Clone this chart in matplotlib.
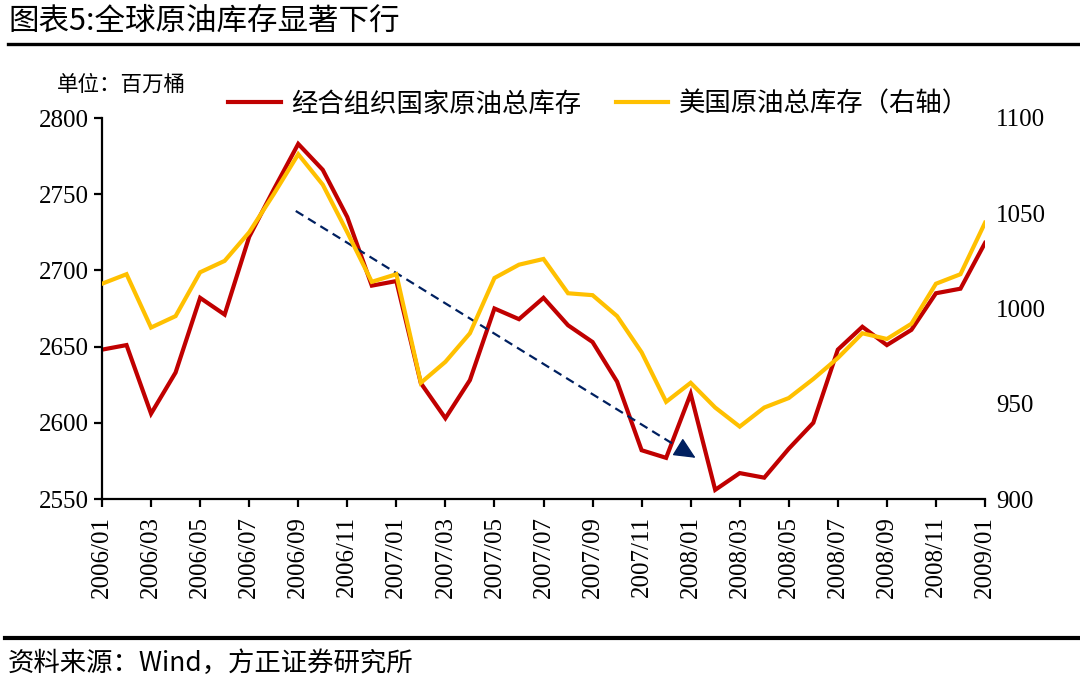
import matplotlib
matplotlib.use('Agg')
import matplotlib.pyplot as plt
from matplotlib.lines import Line2D
import numpy as np
import pandas as pd

plt.rcParams['font.family'] = ['Liberation Serif', 'Noto Sans CJK SC']
CJK = ['Noto Sans CJK SC', 'DejaVu Sans']

# monthly, 2006/01 - 2009/01
months = pd.date_range('2006-01-01', periods=37, freq='MS').strftime('%Y/%m').tolist()

# 经合组织国家原油总库存 (left axis, 百万桶)
oecd = [2648, 2651, 2606, 2633, 2682, 2671, 2722, 2753, 2783, 2766, 2735, 2690, 2693,
        2626, 2603, 2628, 2675, 2668, 2682, 2664, 2653, 2627, 2582, 2577, 2619, 2556,
        2567, 2564, 2583, 2600, 2648, 2663, 2651, 2661, 2685, 2688, 2718]
# 美国原油总库存 (right axis)
us = [1013, 1018, 990, 996, 1019, 1025, 1040, 1060, 1081, 1065, 1040, 1014, 1018,
      961, 972, 987, 1016, 1023, 1026, 1008, 1007, 996, 977, 951, 961, 948,
      938, 948, 953, 963, 974, 987, 984, 992, 1013, 1018, 1045]

# trend arrow: (month index, left-axis value)
arrow_start = (7.9, 2739)
arrow_end = (24.2, 2577)

RED = '#C00000'
YELLOW = '#FFC000'
NAVY = '#002060'

W, H = 1080, 679
fig = plt.figure(figsize=(W / 100, H / 100), dpi=100)

def px(x, y):
    return x / W, 1 - y / H

l, t = px(102, 118)
r, b = px(985, 499)
ax = fig.add_axes([l, b, r - l, t - b])
ax2 = ax.twinx()

x = np.arange(len(months))
ax.plot(x, oecd, color=RED, lw=3.0, solid_joinstyle='miter')
ax2.plot(x, us, color=YELLOW, lw=3.0, solid_joinstyle='miter')

ax.set_xlim(0, 36)
ax.set_ylim(2550, 2800)
ax2.set_ylim(900, 1100)
ax.set_yticks(np.arange(2550, 2801, 50))
ax2.set_yticks(np.arange(900, 1101, 50))
ax.set_xticks(x[::2])
ax.set_xticklabels(months[::2], rotation=90)

for s in ['top', 'right']:
    ax.spines[s].set_visible(False)
for s in ['top', 'right', 'left', 'bottom']:
    ax2.spines[s].set_visible(False)
ax.spines['left'].set_linewidth(1.6)
ax.spines['bottom'].set_linewidth(1.6)
ax.tick_params(axis='both', direction='out', length=6, width=1.6, labelsize=18, color='black')
ax.tick_params(axis='x', pad=6)
ax2.tick_params(axis='y', length=0, labelsize=18, pad=8)

# arrow: dashed shaft plus a solid filled head
sx, sy = arrow_start
ex, ey = arrow_end
k = 0.95
ax.plot([sx, sx + k * (ex - sx)], [sy, sy + k * (ey - sy)], color=NAVY, lw=1.6,
        linestyle=(0, (4, 2.5)))
hx, hy = sx + 0.97 * (ex - sx), sy + 0.97 * (ey - sy)
ax.annotate('', xy=arrow_end, xytext=(hx, hy),
            arrowprops=dict(arrowstyle='-|>,head_length=0.75,head_width=0.35', color=NAVY,
                            lw=1.0, shrinkA=0, shrinkB=0, mutation_scale=18))

# legend
handles = [Line2D([], [], color=RED, lw=3.0), Line2D([], [], color=YELLOW, lw=3.0)]
leg = fig.legend(handles, ['经合组织国家原油总库存', '美国原油总库存（右轴）'],
                 loc='center left', bbox_to_anchor=px(204, 104), ncol=2, frameon=False,
                 handlelength=2.0, handletextpad=0.4, columnspacing=1.3,
                 prop={'family': CJK, 'size': 19})

fig.text(*px(57, 85), '单位：百万桶', family=CJK, fontsize=15.5, va='center', ha='left')

# title and footer
fig.text(*px(8, 21), '图表5:全球原油库存显著下行', family=CJK, fontsize=22, va='center', ha='left')
fig.add_artist(Line2D([8 / W, 1], [1 - 44 / H] * 2, color='black', lw=2.4))
fig.add_artist(Line2D([5 / W, 1], [1 - 638 / H] * 2, color='black', lw=3.0))
fig.text(*px(8, 663), '资料来源：Wind，方正证券研究所', family=CJK, fontsize=19, va='center', ha='left')

fig.savefig('out.png', dpi=100)
